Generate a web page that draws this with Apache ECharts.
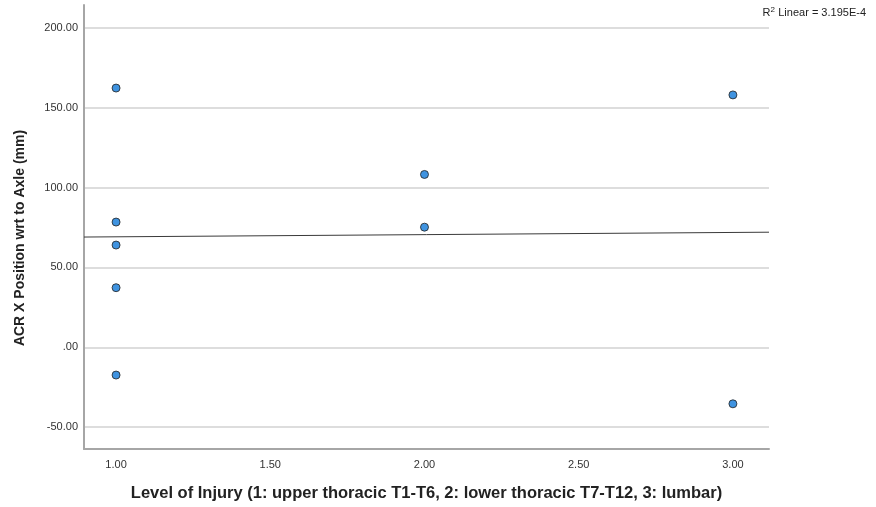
<!DOCTYPE html>
<html>
<head>
<meta charset="utf-8">
<style>html,body{margin:0;padding:0;background:#fff}#c{width:876px;height:507px}</style>
<script src="https://cdn.jsdelivr.net/npm/echarts@6/dist/echarts.min.js"></script>
</head>
<body>
<div id="c"></div>
<script>
const levels = [1, 1, 1, 1, 1, 2, 2, 3, 3];
const acrX = [162.3, 78.4, 64.0, 37.3, -17.4, 108.2, 75.2, 158.0, -35.4];
const yTicks = [-50, 0, 50, 100, 150, 200];
const xTicks = [1, 1.5, 2, 2.5, 3];
const xTitle = 'Level of Injury (1: upper thoracic T1-T6, 2: lower thoracic T7-T12, 3: lumbar)';
const yTitle = 'ACR X Position wrt to Axle (mm)';
const r2Text = 'Linear = 3.195E-4';

const xMin = 0.896, xMax = 3.117, yMin = -63.7, yMax = 214.3;

// least squares fit
const n = levels.length;
const mx = levels.reduce((a, b) => a + b, 0) / n;
const my = acrX.reduce((a, b) => a + b, 0) / n;
let sxy = 0, sxx = 0;
for (let i = 0; i < n; i++) { sxy += (levels[i] - mx) * (acrX[i] - my); sxx += (levels[i] - mx) ** 2; }
const slope = sxy / sxx, icpt = my - slope * mx;
const fit = [[xMin, icpt + slope * xMin], [xMax, icpt + slope * xMax]];

const fmtY = v => { let s = Number(v).toFixed(2); if (s.startsWith('0.')) s = s.slice(1); return s; };
const font = 'Arial, "Liberation Sans", sans-serif';

const chart = echarts.init(document.getElementById('c'), null, { renderer: 'canvas' });
chart.setOption({
  animation: false,
  backgroundColor: '#fff',
  grid: { left: 84, right: 107, top: 5, bottom: 55, containLabel: false },
  xAxis: {
    type: 'value', min: xMin, max: xMax,
    name: xTitle, nameLocation: 'middle', nameGap: 36,
    nameTextStyle: { fontFamily: font, fontSize: 16.5, fontWeight: 'bold', color: '#222' },
    axisLine: { show: true, onZero: false, lineStyle: { color: '#a6a6a6', width: 2 } },
    axisTick: { show: false, customValues: xTicks },
    axisLabel: { customValues: xTicks, formatter: v => Number(v).toFixed(2), fontFamily: font, fontSize: 11, color: '#333', margin: 10 },
    splitLine: { show: false }
  },
  yAxis: {
    type: 'value', min: yMin, max: yMax,
    axisLine: { show: true, onZero: false, lineStyle: { color: '#a6a6a6', width: 2 } },
    axisTick: { show: false, customValues: yTicks },
    axisLabel: { customValues: yTicks, formatter: fmtY, fontFamily: font, fontSize: 11, color: '#333', margin: 6 },
    splitLine: { show: true, lineStyle: { color: '#d2d2d2', width: 1.5 } }
  },
  graphic: [{
    type: 'text', right: 10, top: 6,
    style: {
      text: '{n|R}{s|2} {n|' + r2Text + '}',
      rich: {
        n: { fontFamily: font, fontSize: 11, fill: '#222', color: '#222' },
        s: { fontFamily: font, fontSize: 8, fill: '#222', color: '#222', verticalAlign: 'top', padding: [0, 0, 6, 0] }
      }
    }
  }, {
    type: 'text', x: 20, y: 238, rotation: Math.PI / 2,
    style: {
      text: yTitle, fontFamily: font, fontSize: 14, fontWeight: 'bold', fill: '#222',
      align: 'center', verticalAlign: 'middle'
    }
  }],
  series: [
    {
      type: 'line', data: fit, symbol: 'none', silent: true,
      lineStyle: { color: '#3a3a3a', width: 1 }, z: 2
    },
    {
      type: 'scatter', data: levels.map((x, i) => [x, acrX[i]]),
      symbol: 'circle', symbolSize: 8,
      itemStyle: { color: '#0f78d8', borderColor: '#222', borderWidth: 1 }, z: 3
    }
  ]
});
</script>
</body>
</html>
